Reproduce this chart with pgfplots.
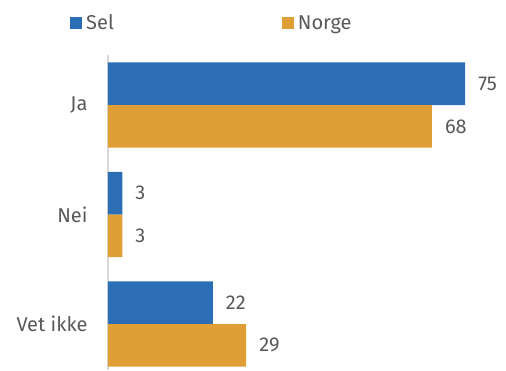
\documentclass[border=0pt]{standalone}
\usepackage{fontspec}
\setmainfont{Fira Sans}
\usepackage{pgfplots}
\pgfplotsset{compat=1.18}
\definecolor{selblue}{HTML}{2C6EB5}
\definecolor{noorange}{HTML}{E09E36}
\definecolor{txtgray}{HTML}{595959}
\definecolor{axgray}{HTML}{D9D9D9}
\begin{document}
\begin{tikzpicture}
\useasboundingbox (-108pt,0pt) rectangle (398pt,370pt);
\begin{axis}[
  at={(0pt,0pt)}, anchor=south west,
  scale only axis,
  width=381pt, height=315pt,
  xmin=0, xmax=80,
  ymin=-0.457, ymax=2.42,
  y dir=reverse,
  axis x line=none,
  axis y line*=left,
  y axis line style={draw=axgray, line width=1.2pt},
  ytick={0,1,2},
  yticklabels={Ja,Nei,Vet ikke},
  major tick length=0pt,
  yticklabel style={font=\fontsize{20}{24}\selectfont, text=txtgray, xshift=-17pt},
  xbar,
  bar width=0.39,
  nodes near coords,
  nodes near coords style={font=\fontsize{20}{24}\selectfont, text=txtgray, anchor=west, inner sep=0pt, xshift=13pt,
    /pgf/number format/assume math mode=true},
  legend columns=2,
  legend style={at={(-0.0997,1.1016)}, anchor=west, draw=none, fill=none, inner sep=0pt,
    font=\fontsize{20}{24}\selectfont, text=txtgray,
    nodes={inner sep=0pt},
    /tikz/every odd column/.append style={column sep=4pt},
    /tikz/every even column/.append style={column sep=168pt}},
  legend image code/.code={\fill[#1] (0pt,-6pt) rectangle (12pt,6pt);},
]
\addplot[fill=selblue, draw=none, bar shift=-0.195] coordinates {(75,0) (3,1) (22,2)};
\addplot[fill=noorange, draw=none, bar shift=0.195] coordinates {(68,0) (3,1) (29,2)};
\legend{Sel, Norge}
\end{axis}
\end{tikzpicture}
\end{document}
